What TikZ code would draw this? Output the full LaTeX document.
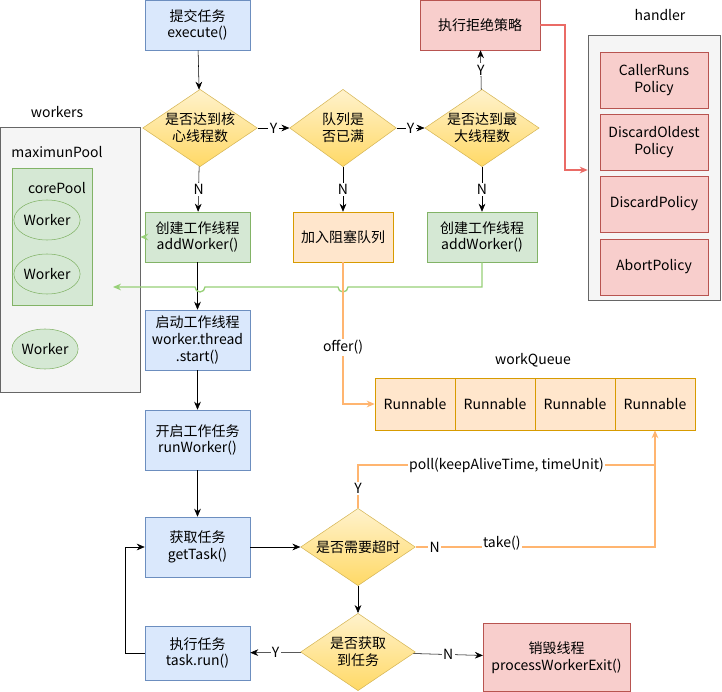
\documentclass[tikz,border=0pt]{standalone}
\usepackage{fontspec}
\setmainfont{Noto Sans CJK SC}
\usetikzlibrary{shapes.geometric,arrows.meta}
\definecolor{bfill}{HTML}{DAE8FC}\definecolor{bdraw}{HTML}{6C8EBF}
\definecolor{gfill}{HTML}{D5E8D4}\definecolor{gdraw}{HTML}{82B366}
\definecolor{ofill}{HTML}{FFE6CC}\definecolor{odraw}{HTML}{D79B00}
\definecolor{rfill}{HTML}{F8CECC}\definecolor{rdraw}{HTML}{B85450}
\definecolor{ytop}{HTML}{FFF2CC}\definecolor{ybot}{HTML}{FFD966}\definecolor{ydraw}{HTML}{D6B656}
\definecolor{garrow}{HTML}{97D077}\definecolor{oarrow}{HTML}{FFB570}\definecolor{rarrow}{HTML}{EA6B66}
\begin{document}
\begin{tikzpicture}[x=0.75pt,y=-0.75pt,font=\fontsize{10.5}{12.5}\selectfont,
 box/.style={draw,rectangle,align=center,inner sep=1pt},
 blue/.style={box,fill=bfill,draw=bdraw,minimum width=78.75pt,minimum height=#1},
 green/.style={box,fill=gfill,draw=gdraw,minimum width=78.75pt,minimum height=37.5pt},
 red/.style={box,fill=rfill,draw=rdraw},
 dia/.style={draw=ydraw,diamond,aspect=1.5,top color=ytop,bottom color=ybot,align=center,inner sep=0pt,minimum width=86pt,minimum height=58pt},
 arr/.style={-{Stealth[length=6pt,width=5pt]}},
 lab/.style={fill=white,inner sep=1pt,text=black}]
\useasboundingbox (0,0) rectangle (722,692);
% containers
\node[draw=black!60,fill=black!4,minimum width=105pt,minimum height=198.75pt] (workers) at (70,259.5) {};
\node at (57,112) {workers};
\node at (57,152) {maximunPool};
\node[draw=gdraw,fill=gfill,minimum width=60pt,minimum height=102.75pt] (core) at (52,236.5) {};
\node at (57,188) {corePool};
\node[ellipse,draw=gdraw,fill=gfill,minimum width=42pt,minimum height=30pt,inner sep=0pt] (w1) at (47,220) {Worker};
\node[ellipse,draw=gdraw,fill=gfill,minimum width=42pt,minimum height=30pt,inner sep=0pt] (w2) at (47,274) {Worker};
\node[ellipse,draw=gdraw,fill=gfill,minimum width=42pt,minimum height=30pt,inner sep=0pt] (w3) at (45,349) {Worker};
\node[draw=black!60,fill=black!4,minimum width=99pt,minimum height=198.75pt] (handler) at (654,167.5) {};
\node at (660,15) {handler};
\foreach \n/\y/\t in {p1/80/CallerRuns\\Policy,p2/142/DiscardOldest\\Policy,p3/204/DiscardPolicy,p4/267/AbortPolicy}
  \node[red,minimum width=81pt,minimum height=42pt] (\n) at (654,\y) {\t};
% main nodes
\node[blue=37.5pt] (submit) at (197.5,25) {提交任务\\execute()};
\node[red,minimum width=90pt,minimum height=37.5pt] (reject) at (480,25) {执行拒绝策略};
\node[dia] (d1) at (200,128) {是否达到核\\心线程数};
\node[dia,minimum width=80pt] (d2) at (343,128) {队列是\\否已满};
\node[dia,minimum width=82pt] (d3) at (482,128) {是否达到最\\大线程数};
\node[green] (c1) at (197.5,237) {创建工作线程\\addWorker()};
\node[box,fill=ofill,draw=odraw,minimum width=75pt,minimum height=37.5pt] (q) at (343,237) {加入阻塞队列};
\node[green,minimum width=82.5pt] (c2) at (482,237) {创建工作线程\\addWorker()};
\node[blue=45pt] (start) at (197.5,340) {启动工作线程\\worker.thread\\.start()};
\node[blue=45pt] (run) at (197.5,440) {开启工作任务\\runWorker()};
\node[blue=45pt] (get) at (197.5,547) {获取任务\\getTask()};
\node[dia] (d4) at (358,547) {是否需要超时};
\node[dia] (d5) at (358,652) {是否获取\\到任务};
\node[blue=40.5pt] (exec) at (197.5,653) {执行任务\\task.run()};
\node[red,minimum width=110pt,minimum height=51pt] (destroy) at (556.5,657.5) {销毁线程\\processWorkerExit()};
% queue
\node at (533,360) {workQueue};
\foreach \n/\x in {r1/415,r2/495,r3/575,r4/655}
  \node[box,fill=ofill,draw=odraw,minimum width=60pt,minimum height=39pt] (\n) at (\x,404) {Runnable};
% edges
\draw[arr] (submit) -- (d1);
\draw[arr] (d1) -- node[lab]{Y} (d2);
\draw[arr] (d2) -- node[lab]{Y} (d3);
\draw[arr] (d3) -- node[lab]{Y} (reject);
\draw[arr] (d1) -- node[lab]{N} (c1);
\draw[arr] (d2) -- node[lab]{N} (q);
\draw[arr] (d3) -- node[lab]{N} (c2);
\coordinate (h1) at (565,25); \coordinate (h2) at (565,170);
\draw[arr,rarrow,line width=1pt] (reject.east) -- (h1) -- (h2) -- (h2-|handler.west);
\draw[arr,garrow,line width=1pt] (c1.west) -- (c1.west-|workers.east);
\draw[arr] (c1) -- (start);
\coordinate (g1) at (482,287); \coordinate (g2) at (113,287);
\draw[arr,garrow,line width=1pt] (c2.south) -- (g1) -- (348,287) arc (0:180:5) -- (205,287) arc (0:180:5) -- (g2);
\coordinate (o1) at (343,404);
\draw[arr,oarrow,line width=1pt] (q.south) -- node[lab,pos=0.6]{offer()} (o1) -- (r1.west);
\draw[arr] (start) -- (run);
\draw[arr] (run) -- (get);
\draw[arr] (get) -- (d4);
\coordinate (y1) at (358,465); \coordinate (y2) at (655,465); \coordinate (n1) at (655,547);
\draw[oarrow,line width=1pt] (d4.north) -- node[lab,pos=0.45]{Y} (y1) -- node[lab]{poll(keepAliveTime, timeUnit)} (y2);
\draw[arr,oarrow,line width=1pt] (d4.east) -- node[lab,pos=0.08]{N} node[lab,pos=0.36,yshift=3pt]{take()} (n1) -- (r4.south);
\draw[arr] (d4) -- (d5);
\draw[arr] (d5) -- node[lab]{Y} (exec);
\draw[arr] (d5) -- node[lab]{N} (destroy);
\coordinate (l1) at (125,653); \coordinate (l2) at (125,547);
\draw[arr] (exec.west) -- (l1) -- (l2) -- (get.west);
\end{tikzpicture}
\end{document}
